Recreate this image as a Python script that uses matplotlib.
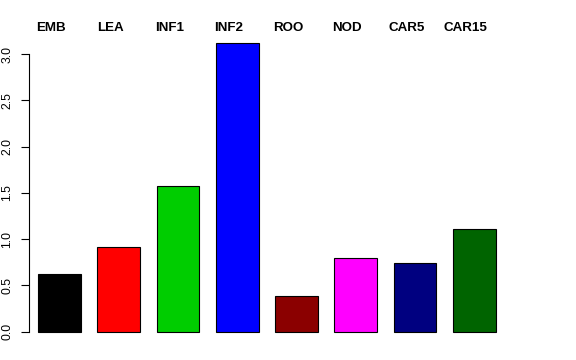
import matplotlib.pyplot as plt
import matplotlib.transforms as mtransforms

plt.rcParams['font.family'] = ['Liberation Sans', 'DejaVu Sans']

tissues = ["EMB", "LEA", "INF1", "INF2", "ROO", "NOD", "CAR5", "CAR15"]
values = [0.62, 0.91, 1.57, 3.12, 0.38, 0.80, 0.74, 1.105]
colors = ["black", "red", "#00CD00", "blue", "#8B0000", "magenta", "#000080", "#006400"]
yticks = [0.0, 0.5, 1.0, 1.5, 2.0, 2.5, 3.0]


def main() -> None:
    W, H = 576, 360
    fig = plt.figure(figsize=(W / 100, H / 100), dpi=100)
    # plot region in pixels: left 29, right 530, top 31, bottom 343
    ax = fig.add_axes([29 / W, 1 - 343 / H, (530 - 29) / W, (343 - 31) / H])

    pitch = 59.3
    xs = [i + 1 for i in range(len(tissues))]
    ax.bar(xs, values, width=0.72, color=colors, edgecolor="black", linewidth=0.8)
    ax.set_xlim(29 / pitch, 530 / pitch)
    ax.set_ylim(-0.124, 3.249)

    for s in ["top", "right", "bottom"]:
        ax.spines[s].set_visible(False)
    ax.spines["left"].set_bounds(0, 3)
    ax.spines["left"].set_linewidth(0.8)
    ax.set_xticks([])
    ax.set_yticks(yticks)
    ax.set_yticklabels([f"{t:.1f}" for t in yticks], rotation=90, va="center")
    ax.tick_params(axis="y", length=5.8, width=0.8, pad=5.5, labelsize=8.7)

    # tissue names above the plot region
    trans = mtransforms.blended_transform_factory(ax.transData, fig.transFigure)
    for x, name in zip(xs, tissues):
        ax.text(x - 0.145, 1 - 28 / H, name, transform=trans,
                ha="center", va="center", fontsize=9.6, fontweight="bold")

    fig.savefig("out.png", dpi=100)
    plt.close(fig)


if __name__ == "__main__":
    main()
